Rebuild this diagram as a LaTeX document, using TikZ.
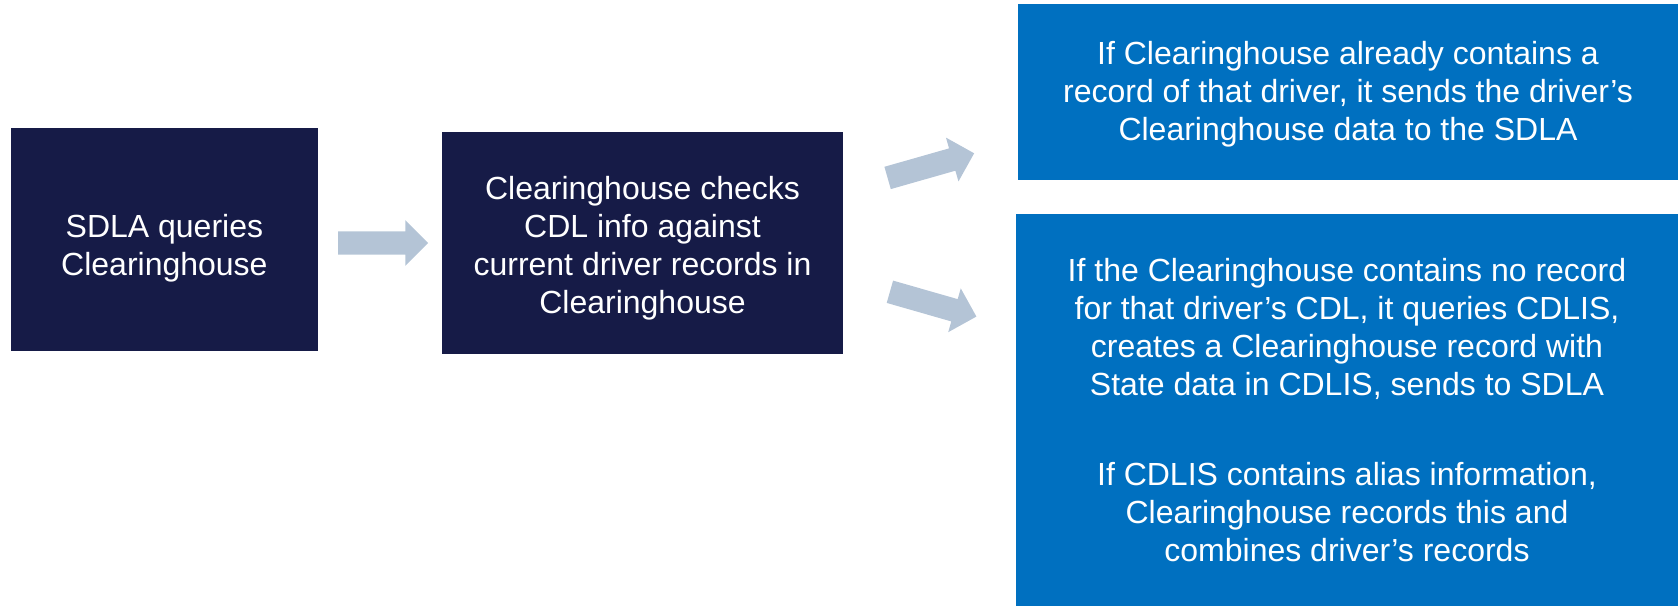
\documentclass[tikz,border=0pt]{standalone}
\usepackage{fontspec}
\setmainfont{Liberation Sans}
\usetikzlibrary{shapes.arrows}
\definecolor{navy}{RGB}{22,27,71}
\definecolor{bluebox}{RGB}{0,112,192}
\definecolor{arrowgray}{RGB}{180,196,214}
\tikzset{
  stepbox/.style={fill=#1, inner sep=0pt},
  boxtext/.style={text=white, inner sep=0pt, align=center,
    font=\fontsize{32}{38}\selectfont},
  blockarrow/.style={single arrow, fill=arrowgray, draw=none,
    inner xsep=0pt, inner ysep=11.4pt, text height=0pt, text depth=0pt,
    minimum height=90pt, single arrow head extend=11.2pt,
    anchor=tail}
}
\begin{document}
\begin{tikzpicture}[x=1pt, y=-1pt]
\useasboundingbox (0,0) rectangle (1678,605);
\node[stepbox=navy, minimum width=307pt, minimum height=223pt] (b1) at (164.4,239.7) {};
\node[boxtext] (t1) at ([yshift=-9pt]b1.center)
  {SDLA queries\\Clearinghouse};
\node[stepbox=navy, minimum width=401pt, minimum height=222pt] (b2) at (642.5,243) {};
\node[boxtext] (t2) at ([yshift=-5pt]b2.center)
  {Clearinghouse checks\\CDL info against\\current driver records in\\Clearinghouse};
\node[stepbox=bluebox, minimum width=660pt, minimum height=176pt] (b3) at (1348,92) {};
\node[boxtext] (t3) at ([yshift=-2pt]b3.center)
  {If Clearinghouse already contains a\\record of that driver, it sends the driver’s\\Clearinghouse data to the SDLA};
\node[stepbox=bluebox, minimum width=662pt, minimum height=392pt] (b4) at (1347,410) {};
\node[boxtext] (t4) at (b4.center)
  {If the Clearinghouse contains no record\\for that driver’s CDL, it queries CDLIS,\\creates a Clearinghouse record with\\State data in CDLIS, sends to SDLA\\[52pt]If CDLIS contains alias information,\\Clearinghouse records this and\\combines driver’s records};
\node[blockarrow] (a1) at (338,243) {};
\node[blockarrow, rotate=15.9] (a2) at (887.4,178) {};
\node[blockarrow, rotate=-16] (a3) at (889.7,291.7) {};
\end{tikzpicture}
\end{document}
